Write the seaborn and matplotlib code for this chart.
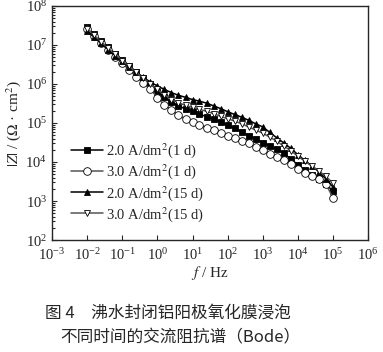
"""
Bode |Z| vs f for boiling-water sealed anodic films, four immersion conditions.
Output: out.png
"""

import matplotlib
matplotlib.use("Agg")
import matplotlib.pyplot as plt
import numpy as np
import pandas as pd
import seaborn as sns

# frequencies (Hz), 5 per decade, 0.01 Hz .. 100 kHz
freq = [0.01, 0.0158, 0.0251, 0.0398, 0.0631,
        0.1, 0.158, 0.251, 0.398, 0.631,
        1, 1.58, 2.51, 3.98, 6.31,
        10, 15.8, 25.1, 39.8, 63.1,
        100, 158, 251, 398, 631,
        1e3, 1.58e3, 2.51e3, 3.98e3, 6.31e3,
        1e4, 1.58e4, 2.51e4, 3.98e4, 6.31e4,
        1e5]

# log10 |Z| (Ohm cm^2)
logz_20_1d = [7.45, 7.28, 7.11, 6.94, 6.78, 6.62, 6.46, 6.31, 6.16, 6.00,
              5.80, 5.66, 5.53, 5.44, 5.36, 5.30, 5.23, 5.16, 5.10, 5.02,
              4.94, 4.86, 4.77, 4.68, 4.59, 4.50, 4.42, 4.33, 4.22, 4.08,
              3.93, 3.80, 3.68, 3.56, 3.44, 3.25]
logz_30_1d = [7.40, 7.22, 7.04, 6.87, 6.70, 6.53, 6.36, 6.19, 6.03, 5.87,
              5.65, 5.47, 5.33, 5.20, 5.10, 5.02, 4.95, 4.88, 4.81, 4.75,
              4.68, 4.62, 4.55, 4.48, 4.38, 4.31, 4.21, 4.13, 4.05, 3.95,
              3.83, 3.71, 3.63, 3.56, 3.44, 3.08]
logz_20_15d = [7.35, 7.20, 7.04, 6.88, 6.73, 6.58, 6.43, 6.30, 6.17, 6.05,
               5.95, 5.86, 5.78, 5.71, 5.66, 5.60, 5.56, 5.51, 5.44, 5.37,
               5.29, 5.22, 5.15, 5.07, 4.98, 4.90, 4.76, 4.62, 4.49, 4.35,
               4.19, 4.04, 3.90, 3.75, 3.57, 3.36]
logz_30_15d = [7.42, 7.25, 7.08, 6.92, 6.76, 6.60, 6.45, 6.30, 6.15, 6.00,
               5.86, 5.73, 5.60, 5.52, 5.45, 5.40, 5.35, 5.30, 5.24, 5.17,
               5.11, 5.05, 4.98, 4.90, 4.82, 4.74, 4.64, 4.53, 4.41, 4.29,
               4.15, 4.02, 3.90, 3.77, 3.63, 3.46]

labels = ["2.0 A/dm$^2$(1 d)", "3.0 A/dm$^2$(1 d)",
          "2.0 A/dm$^2$(15 d)", "3.0 A/dm$^2$(15 d)"]

sns.set_theme(style="ticks")
plt.rcParams["font.family"] = ["Liberation Serif", "DejaVu Serif"]
plt.rcParams["mathtext.fontset"] = "stix"

series = [
    (logz_20_1d,  labels[0], "s", "black",   "black", 4.5),
    (logz_30_1d,  labels[1], "o", "#555555", "white", 5.5),
    (logz_20_15d, labels[2], "^", "black",   "black", 4.0),
    (logz_30_15d, labels[3], "v", "#555555", "white", 5.0),
]

fig = plt.figure(figsize=(3.83, 3.52), dpi=100)
ax = fig.add_axes([0.136, 0.318, 0.825, 0.665])

for logz, lab, mk, col, face, ms in series:
    df = pd.DataFrame({"f": freq, "Z": 10 ** np.array(logz)})
    sns.lineplot(data=df, x="f", y="Z", ax=ax, label=lab, color=col,
                 marker=mk, markersize=ms, markerfacecolor=face,
                 markeredgecolor="black", markeredgewidth=0.6,
                 linewidth=1.1)

ax.set_xscale("log")
ax.set_yscale("log")
ax.set_xlim(1e-3, 1e6)
ax.set_ylim(1e2, 1e8)
ax.set_xticks([10.0 ** k for k in range(-3, 7)])
ax.set_yticks([10.0 ** k for k in range(2, 9)])
ax.tick_params(which="both", direction="in", labelsize=10.5, width=0.8)
ax.tick_params(which="major", length=3.5)
ax.tick_params(which="minor", length=2)
ax.tick_params(axis="x", pad=5)
for s in ax.spines.values():
    s.set_linewidth(1.0)

ax.set_xlabel("$f$ / Hz", fontsize=11, labelpad=1)
ax.set_ylabel(r"$|Z|$ / ($\Omega$ · cm$^2$)", fontsize=11, labelpad=2)

ax.legend(loc="lower left", bbox_to_anchor=(0.04, 0.045), frameon=False,
          fontsize=10.5, handlelength=2.2, handletextpad=0.2,
          labelspacing=0.15, borderaxespad=0)

cjk = ["Noto Sans CJK SC", "DejaVu Sans"]
fig.text(0.117, 1 - 313 / 352, "图 4　沸水封闭铝阳极氧化膜浸泡",
         family=cjk, fontsize=12, ha="left", va="center")
fig.text(0.157, 1 - 338 / 352, "不同时间的交流阻抗谱（Bode）",
         family=cjk, fontsize=12, ha="left", va="center")

fig.savefig("out.png", dpi=100)
plt.close(fig)
